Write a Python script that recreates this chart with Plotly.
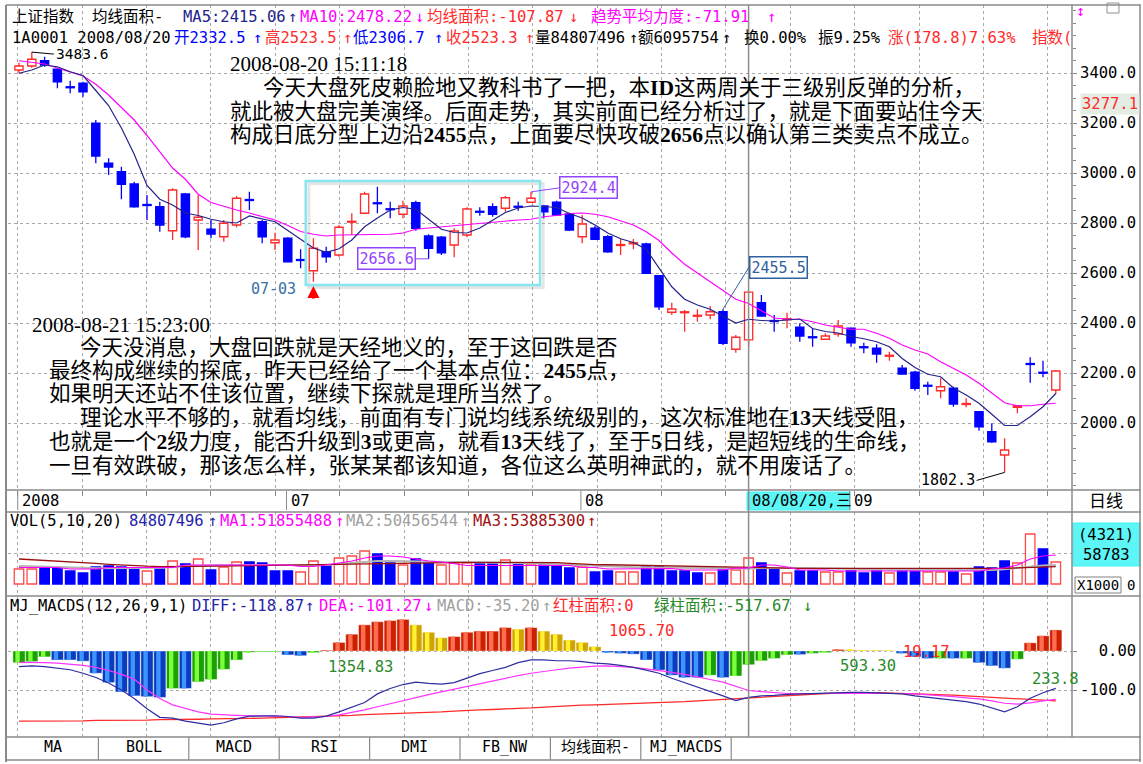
import plotly.graph_objects as go

W, H = 1143, 764

# ---------------- data ----------------
OPEN = [3412, 3428, 3449, 3415, 3345, 3359, 3199, 3039, 3005, 2956,
        2874, 2865, 2769, 2916, 2812, 2775, 2745, 2792, 2894, 2805,
        2721, 2739, 2654, 2609, 2685, 2672, 2803, 2839, 2881, 2857,
        2835, 2881, 2748, 2743, 2712, 2752, 2847, 2865, 2859, 2867,
        2883, 2868, 2883, 2836, 2745, 2779, 2745, 2710, 2717, 2716,
        2589, 2443, 2441, 2427, 2432, 2445, 2295, 2332.5, 2481, 2410,
        2413, 2383, 2345, 2335, 2356, 2379, 2305, 2299, 2267, 2219,
        2203, 2151, 2129, 2139, 2074, 2045, 1965, 1872, 2063, 2238,
        2203, 2132]
HIGH = [3441, 3483.6, 3465, 3417, 3369, 3365, 3212, 3059, 3025, 2965,
        2912, 2885, 2939, 2919, 2912, 2812, 2812, 2908, 2925, 2812,
        2761, 2743, 2695, 2739, 2705, 2792, 2839, 2925, 2945, 2885,
        2889, 2889, 2755, 2748, 2779, 2863, 2863, 2879, 2908, 2885,
        2924.4, 2870, 2889, 2841, 2832, 2788, 2752, 2737, 2736, 2721,
        2592, 2481, 2452, 2455, 2468, 2455.5, 2352, 2523.5, 2512, 2432,
        2441, 2399, 2379, 2359, 2412, 2381, 2321, 2315, 2285, 2232,
        2209, 2165, 2179, 2145, 2099, 2046, 1999, 1939, 2071, 2263,
        2249, 2212]
LOW = [3399, 3421, 3425, 3339, 3319, 3305, 3039, 2992, 2895, 2862,
       2812, 2765, 2732, 2739, 2692, 2739, 2725, 2783, 2852, 2719,
       2692, 2643, 2619, 2565, 2641, 2665, 2752, 2836, 2839, 2819,
       2819, 2769, 2656.6, 2672, 2663, 2743, 2829, 2825, 2845, 2849,
       2881, 2819, 2829, 2769, 2719, 2733, 2681, 2672, 2695, 2596,
       2452, 2432, 2365, 2405, 2415, 2312, 2281, 2306.7, 2426, 2365,
       2379, 2325, 2305, 2332, 2345, 2305, 2279, 2241, 2249, 2194,
       2129, 2112, 2099, 2065, 2063, 1969, 1921, 1802.3, 2039, 2161,
       2183, 2116]
CLOSE = [3428, 3455, 3432, 3365, 3341, 3325, 3068, 3024, 2955, 2865,
         2870, 2792, 2932, 2745, 2823, 2756, 2799, 2899, 2890, 2745,
         2732, 2645, 2650, 2699, 2665, 2783, 2807, 2916, 2877, 2853,
         2868, 2779, 2699, 2681, 2768, 2856, 2843, 2835, 2901, 2863,
         2899, 2845, 2832, 2772, 2796, 2735, 2685, 2714, 2721, 2599,
         2465, 2456, 2445, 2431, 2445, 2319, 2343, 2523.3, 2428, 2406,
         2417, 2348, 2341, 2348, 2388, 2321, 2301, 2276, 2271, 2196,
         2139, 2147, 2145, 2076, 2078, 1985, 1925, 1892, 2069, 2234,
         2199, 2208]
MA5 = [3399, 3412, 3432, 3425, 3405, 3390, 3330, 3270, 3180, 3075,
       2950, 2895, 2872, 2840, 2830, 2815, 2805, 2800, 2828, 2815,
       2805, 2770, 2735, 2700, 2683, 2697, 2732, 2785, 2820, 2852,
       2862, 2855, 2815, 2775, 2762, 2760, 2780, 2812, 2842, 2860,
       2868, 2866, 2862, 2838, 2820, 2792, 2760, 2737, 2722, 2695,
       2620, 2545, 2495, 2472, 2455, 2428, 2400, 2415.06, 2410, 2408,
       2413, 2416, 2378, 2366, 2360, 2346, 2337, 2325, 2305, 2258,
       2222, 2195, 2185, 2140, 2112, 2079, 2035, 1990, 1990, 2025,
       2065, 2118]
MA10 = [3449, 3441, 3436, 3420, 3405, 3388, 3355, 3312, 3262, 3212,
        3150, 3085, 3020, 2975, 2915, 2882, 2866, 2852, 2840, 2826,
        2812, 2790, 2766, 2755, 2748, 2752, 2752, 2752, 2752, 2755,
        2760, 2775, 2780, 2785, 2790, 2793, 2800, 2805, 2808, 2812,
        2815, 2825, 2830, 2838, 2840, 2835, 2825, 2810, 2792, 2765,
        2730, 2680, 2635, 2600, 2565, 2530, 2495, 2478.22, 2449, 2420,
        2415, 2415, 2405, 2392, 2383, 2375, 2375, 2359, 2339, 2312,
        2292, 2276, 2245, 2219, 2192, 2159, 2119, 2081, 2069, 2069,
        2075, 2079]

# volume in 10k shares
VOL = [4890, 4890, 5220, 5220, 4240, 3590, 5550, 5870, 5550, 4890,
       4240, 4890, 7500, 6520, 8160, 4570, 5550, 7180, 7180, 6850,
       4240, 4240, 3910, 7500, 5870, 8480, 9130, 10770, 9790, 6850,
       6200, 8160, 6850, 6200, 6850, 6850, 6850, 6850, 7830, 6850,
       6520, 6200, 5870, 5220, 5550, 3910, 4240, 3910, 3910, 5550,
       5550, 4240, 4240, 3590, 3590, 4570, 4570, 8481, 6850, 4890,
       3590, 4240, 4240, 3910, 3910, 4240, 3590, 4240, 3590, 4240,
       4240, 3910, 3910, 3910, 3260, 5550, 5220, 7500, 6850, 16310,
       11420, 7180]
VOL_COLOR = list("rrbbbbbbbbrbrbrbrrbbbbrrbrrrbbrbbrrrbbrbrbbbrbbrrbbbbbrbrrbbrbbrrbbbrbbrrbrbbbrrbr")
VOL_MA1 = [5380, 5380, 5380, 5380, 4890, 4890, 4890, 5380, 5380, 5380,
           5380, 5380, 5380, 6200, 6200, 6200, 6200, 6200, 6200, 6200,
           6200, 6200, 5710, 5710, 6200, 6850, 7500, 8480, 9130, 9130,
           8810, 8160, 7500, 7180, 6520, 6030, 6030, 6030, 6030, 6030,
           6030, 6030, 6030, 6030, 5380, 5380, 4890, 4890, 4890, 5060,
           5060, 5060, 4570, 4570, 4570, 4570, 5220, 5186, 6200, 6200,
           5550, 4570, 4570, 4570, 4240, 4240, 4240, 4240, 4240, 4240,
           4240, 4240, 4240, 4240, 4240, 4240, 4890, 5220, 6200, 8160,
           9130, 9460]
VOL_MA2 = [5870, 5800, 5720, 5650, 5500, 5300, 5120, 5120, 5120, 5120,
           5120, 5300, 5500, 5870, 5950, 6050, 6100, 6150, 6200, 6200,
           6200, 6200, 6200, 6200, 6200, 6500, 6900, 7200, 7500, 7500,
           7450, 7400, 7350, 7300, 7270, 7150, 7050, 6950, 6850, 6800,
           6750, 6600, 6400, 6200, 5970, 5800, 5700, 5600, 5500, 5450,
           5350, 5250, 5150, 5100, 5050, 5000, 5000, 5046, 5200, 5300,
           5320, 5200, 5100, 5000, 4950, 4900, 4860, 4800, 4750, 4700,
           4650, 4600, 4550, 4500, 4470, 4470, 4600, 4850, 5120, 5600,
           6000, 6200]
VOL_MA3 = [8160, 7950, 7700, 7500, 7270, 7000, 6700, 6430, 6150, 5870,
           5800, 5700, 5650, 5700, 5750, 5800, 5870, 5950, 6050, 6150,
           6200, 6250, 6300, 6350, 6400, 6450, 6520, 6600, 6680, 6750,
           6800, 6850, 6900, 6950, 7000, 7080, 7080, 7080, 7080, 7080,
           7080, 7080, 6950, 6700, 6430, 6350, 6280, 6200, 6100, 6000,
           5850, 5750, 5650, 5580, 5520, 5460, 5420, 5389, 5300, 5200,
           5120, 5120, 5120, 5120, 5120, 5120, 5120, 5080, 5040, 5000,
           4960, 4930, 4910, 4900, 4890, 4950, 5020, 5120, 5250, 5400,
           5550, 5650]

MACD_BAR = [-30, -27, -15, -23, -23, -26, -57, -81, -105, -115,
            -117, -119, -96, -96, -79, -73, -47, -23, -3, -2,
            -2, -10, -12, -4, 2, 22, 43, 67, 75, 78,
            81, 67, 48, 34, 37, 48, 51, 51, 60, 56,
            60, 51, 43, 28, 22, 11, -4, -6, -8, -23,
            -49, -62, -68, -68, -62, -68, -64, -35.2, -25, -19,
            -10, -9, -6, -4, 4, 3, 2, 2, 1, -6,
            -15, -19, -19, -19, -19, -30, -38, -44, -21, 21,
            39, 54]
MACD_COLOR = list("gggbbbbbbbbbgbgggggggbbgrrrrrrryyyrrrrryryyyyybbbbbbbbgbgggggbggryyyybbbgbgbbbgrrr")
DIFF = [-40, -38, -40, -44, -48, -57, -68, -82, -100, -122,
        -148, -170, -172, -180, -185, -190, -184, -174, -167, -166,
        -166, -168, -172, -172, -167, -156, -145, -132, -110, -96,
        -86, -80, -83, -85, -81, -70, -58, -50, -42, -30,
        -23, -23, -25, -25, -27, -31, -33, -37, -42, -49,
        -57, -70, -81, -91, -102, -115, -127, -118.87, -115, -114,
        -111, -110, -109, -107, -106, -106, -106, -107, -108, -110,
        -115, -119, -122, -126, -130, -136, -147, -156, -143, -121,
        -107, -96]
DEA = [-29, -29, -30, -31, -34, -37, -42, -50, -60, -72,
       -100, -122, -138, -148, -156, -162, -164, -165, -166, -166,
       -167, -168, -170, -169, -168, -164, -158, -151, -143, -135,
       -127, -120, -112, -105, -98, -90, -83, -77, -70, -63,
       -57, -52, -48, -44, -41, -39, -38, -40, -42, -46,
       -50, -55, -60, -66, -73, -80, -90, -101.27, -104, -107,
       -109, -109, -109, -108, -108, -108, -108, -108, -108, -109,
       -110, -112, -114, -117, -120, -123, -128, -134, -136, -133,
       -128, -124]
RED_LINE = [-180, -180, -180, -180, -179, -179, -178, -178, -178, -177,
            -177, -176, -176, -175, -175, -174, -174, -173, -173, -172,
            -171, -170, -170, -169, -168, -166, -165, -163, -162, -161,
            -160, -158, -157, -156, -154, -152, -151, -150, -148, -147,
            -146, -144, -143, -141, -139, -138, -137, -136, -135, -134,
            -133, -131, -130, -128, -126, -124, -123, -121, -119, -117,
            -115, -113, -111, -109, -108, -107, -107, -107, -108, -108,
            -109, -110, -111, -113, -115, -117, -119, -121, -123, -125,
            -127, -128]

PRICE_TICKS = [2000, 2200, 2400, 2600, 2800, 3000, 3200, 3400]
VOL_GRID = [10000]
MACD_TICKS = [0, -100]
MACD_TICKTEXT = ["\u00a0\u00a00.00", "-100.0"]
DATE_IDX = [0, 21, 44, 65]
DATE_TEXT = ["2008", "07", "08", "09"]
CURSOR_IDX = 57
CURSOR_LABEL = "08/08/20,三"
TAB_LABELS = ["MA", "BOLL", "MACD", "RSI", "DMI", "FB_NW", "均线面积-", "MJ_MACDS"]

# ---------------- layout constants ----------------
MONO = "DejaVu Sans Mono, Noto Sans CJK SC"
SERIF = "Liberation Serif, Noto Sans CJK SC"
RED = "#ff2b2b"
BLUE = "#0000ff"
NAVY = "#23238a"
MAG = "#ff00ff"
GRID = "#a8a8a8"
FRAME = "#8a8a8a"

X0_PX, STEP_PX = 19.0, 12.8
PL, PR = 8, 1072
MAIN_PX, VOL_PX, MACD_PX = (5, 490), (512, 596), (596, 737)


def idx_of(px):
    return (px - X0_PX) / STEP_PX


def pyf(p):
    return 1 - p / H


XR = [idx_of(PL), idx_of(PR)]
PRICE_RANGE = [3400 - (MAIN_PX[1] - 73) * 4, 3400 - (MAIN_PX[0] - 73) * 4]
VOL_K = 326.2
VOL_RANGE = [(584 - VOL_PX[1]) * VOL_K, (584 - VOL_PX[0]) * VOL_K]
MACD_RANGE = [(651 - MACD_PX[1]) / 0.39, (651 - MACD_PX[0]) / 0.39]

IDX = list(range(len(OPEN)))
fig = go.Figure()

# ---------- candles ----------
up = [c >= o for o, c in zip(OPEN, CLOSE)]
wick = {True: ([], []), False: ([], [])}
for i, (o, h, l, c) in enumerate(zip(OPEN, HIGH, LOW, CLOSE)):
    top, bot = max(o, c), min(o, c)
    wx, wy = wick[c >= o]
    wx += [i, i, None, i, i, None]
    wy += [top, h, None, bot, l, None]
for k, col in ((True, RED), (False, BLUE)):
    fig.add_trace(go.Scatter(x=wick[k][0], y=wick[k][1], mode="lines",
                             line=dict(color=col, width=1.3), xaxis="x", yaxis="y"))
fig.add_trace(go.Bar(
    x=IDX, y=[max(abs(c - o), 3) for o, c in zip(OPEN, CLOSE)],
    base=[min(o, c) for o, c in zip(OPEN, CLOSE)], width=0.64,
    marker=dict(color=["white" if u else BLUE for u in up],
                line=dict(color=[RED if u else BLUE for u in up], width=1.3)),
    xaxis="x", yaxis="y"))
fig.add_trace(go.Scatter(x=IDX, y=MA10, mode="lines", line=dict(color=MAG, width=1.2),
                         xaxis="x", yaxis="y"))
fig.add_trace(go.Scatter(x=IDX, y=MA5, mode="lines", line=dict(color=NAVY, width=1.2),
                         xaxis="x", yaxis="y"))

# ---------- volume ----------
vr = [c == "r" for c in VOL_COLOR]
fig.add_trace(go.Bar(
    x=IDX, y=VOL, base=0, width=0.74,
    marker=dict(color=["white" if u else BLUE for u in vr],
                line=dict(color=["#ff4a4a" if u else BLUE for u in vr], width=1.3)),
    xaxis="x2", yaxis="y2"))
fig.add_trace(go.Scatter(x=IDX, y=VOL_MA2, mode="lines", line=dict(color="#b4b4b4", width=2),
                         xaxis="x2", yaxis="y2"))
fig.add_trace(go.Scatter(x=IDX, y=VOL_MA3, mode="lines", line=dict(color="#9a1010", width=1.3),
                         xaxis="x2", yaxis="y2"))
fig.add_trace(go.Scatter(x=IDX, y=VOL_MA1, mode="lines", line=dict(color=MAG, width=1.2),
                         xaxis="x2", yaxis="y2"))

# ---------- MACD ----------
DARK = {"g": "#1aa000", "b": "#0a3cc0", "r": "#cc2000", "y": "#d0a400"}
LIGHT = {"g": "#7cff3c", "b": "#3f95ff", "r": "#ff6e52", "y": "#fff030"}
fig.add_trace(go.Bar(x=IDX, y=MACD_BAR, base=0, width=0.95, offset=-0.475,
                     marker=dict(color=[DARK[c] for c in MACD_COLOR],
                                 line=dict(color="white", width=0.4)),
                     xaxis="x3", yaxis="y3"))
fig.add_trace(go.Bar(x=IDX, y=MACD_BAR, base=0, width=0.34, offset=-0.28,
                     marker=dict(color=[LIGHT[c] for c in MACD_COLOR], line=dict(width=0)),
                     xaxis="x3", yaxis="y3"))
fig.add_trace(go.Scatter(x=IDX, y=RED_LINE, mode="lines", line=dict(color="#ff2a2a", width=1.3),
                         xaxis="x3", yaxis="y3"))
fig.add_trace(go.Scatter(x=IDX, y=DEA, mode="lines", line=dict(color="#ff33ff", width=1.2),
                         xaxis="x3", yaxis="y3"))
fig.add_trace(go.Scatter(x=IDX, y=DIFF, mode="lines", line=dict(color="#2d2da0", width=1.2),
                         xaxis="x3", yaxis="y3"))

# ---------- axes ----------
xcommon = dict(domain=[PL / W, PR / W], range=XR, showticklabels=False, zeroline=False,
               showgrid=True, gridcolor=GRID, griddash="dot", gridwidth=1,
               tickmode="linear", tick0=-0.1, dtick=5.03, fixedrange=True)
ytick_font = dict(family=MONO, size=15.5, color="black")
fig.update_layout(
    width=W, height=H, margin=dict(l=0, r=0, t=0, b=0),
    paper_bgcolor="white", plot_bgcolor="white", showlegend=False,
    barmode="overlay", hovermode=False, dragmode=False,
    xaxis=dict(**xcommon, anchor="y", ticks="outside", ticklen=5, tickcolor=FRAME),
    xaxis2=dict(**xcommon, anchor="y2", ticks=""),
    xaxis3=dict(**xcommon, anchor="y3", ticks=""),
    yaxis=dict(domain=[pyf(MAIN_PX[1]), pyf(MAIN_PX[0])], range=PRICE_RANGE, anchor="x",
               side="right", tickmode="array", tickvals=PRICE_TICKS, tickformat=".1f",
               ticks="outside", ticklen=4, tickcolor=FRAME, tickfont=ytick_font,
               minor=dict(tickmode="linear", tick0=0, dtick=50, ticks="outside",
                          ticklen=3, tickcolor=FRAME, showgrid=False),
               showgrid=True, gridcolor=GRID, griddash="dot", zeroline=False, fixedrange=True),
    yaxis2=dict(domain=[pyf(VOL_PX[1]), pyf(VOL_PX[0])], range=VOL_RANGE, anchor="x2",
                side="right", tickmode="array", tickvals=VOL_GRID, showticklabels=False,
                showgrid=True, gridcolor=GRID, griddash="dot", zeroline=False, fixedrange=True),
    yaxis3=dict(domain=[pyf(MACD_PX[1]), pyf(MACD_PX[0])], range=MACD_RANGE, anchor="x3",
                side="right", tickmode="array", tickvals=MACD_TICKS, ticktext=MACD_TICKTEXT,
                ticks="outside", ticklen=4, tickcolor=FRAME, tickfont=ytick_font,
                showgrid=True, gridcolor=GRID, griddash="dot", zeroline=False, fixedrange=True),
)

# ---------- shapes ----------
shapes = []


def hline(yp, x0=6, x1=1141, color=FRAME, w=1.5):
    shapes.append(dict(type="line", xref="paper", yref="paper", x0=x0 / W, x1=x1 / W,
                       y0=pyf(yp), y1=pyf(yp), line=dict(color=color, width=w)))


def vline(xp, y0, y1, color=FRAME, w=1.5):
    shapes.append(dict(type="line", xref="paper", yref="paper", x0=xp / W, x1=xp / W,
                       y0=pyf(y0), y1=pyf(y1), line=dict(color=color, width=w)))


def rect(x0, y0, x1, y1, line="#808080", fill="rgba(0,0,0,0)", w=1):
    shapes.append(dict(type="rect", xref="paper", yref="paper", x0=x0 / W, x1=x1 / W,
                       y0=pyf(y1), y1=pyf(y0), line=dict(color=line, width=w), fillcolor=fill,
                       layer="below"))


for yp in (5, 490, 512, 596, 737, 760):
    hline(yp)
vline(6, 5, 762, w=2)
vline(1072, 5, 737)
vline(1140, 5, 762)
for k in range(len(TAB_LABELS)):
    vline(PL + 90.4 * (k + 1), 737, 760, w=1.2)

# date row separators at month starts
for di in DATE_IDX:
    shapes.append(dict(type="line", xref="x", yref="paper", x0=di - 0.1, x1=di - 0.1,
                       y0=pyf(510), y1=pyf(491), line=dict(color=FRAME, width=1)))

# cursor line
shapes.append(dict(type="line", xref="x", yref="paper", x0=CURSOR_IDX, x1=CURSOR_IDX,
                   y0=pyf(737), y1=pyf(5), line=dict(color="#8c8c8c", width=1.5), layer="above"))

# cyan box drawn on the chart
BOX_X, BOX_Y = (22.4, 40.7), (2552, 2968)
shapes.append(dict(type="rect", xref="x", yref="y", x0=BOX_X[0] + 0.25, x1=BOX_X[1] + 0.25,
                   y0=BOX_Y[0] - 10, y1=BOX_Y[1] - 10, line=dict(color="rgba(0,0,0,0.10)", width=3),
                   layer="below"))
shapes.append(dict(type="rect", xref="x", yref="y", x0=BOX_X[0], x1=BOX_X[1],
                   y0=BOX_Y[0], y1=BOX_Y[1], line=dict(color="#88e6ee", width=2.5)))

# right column boxes
rect(1073, 523, 1140, 566, line="#40f0f0", fill="#5cf6f6")
rect(1075, 577, 1121, 593, line="#808080", fill="white")
rect(1107, 3, 1119, 13, line="#909090", fill="white")
rect(747, 492, 850, 510, line="#50f0f0", fill="#5cf6f6")
fig.update_layout(shapes=shapes)

# ---------- annotations ----------
ann = []


def txt(xp, yp, s, color="black", size=15.5, family=MONO, xanchor="left"):
    ann.append(dict(x=xp / W, y=pyf(yp), xref="paper", yref="paper", text=s, showarrow=False,
                    xanchor=xanchor, yanchor="middle", font=dict(family=family, size=size, color=color)))


# header lines
for xp, s, col in [(10, "上证指数", "black"), (90, "均线面积-", "black"),
                   (181, "MA5:2415.06", NAVY), (286, "↑", NAVY),
                   (298, "MA10:2478.22", MAG), (413, "↓", MAG), (425, "均线面积:-107.87", RED),
                   (567, "↓", RED), (589, "趋势平均力度:-71.91", MAG), (765, "↑", MAG)]:
    txt(xp, 17, s, col)
for xp, s, col in [(10, "1A0001 2008/08/20", "black"), (172, "开2332.5", BLUE), (251, "↑", BLUE),
                   (263, "高2523.5", RED), (341, "↑", RED), (351, "低2306.7", BLUE), (432, "↑", BLUE),
                   (444, "收2523.3", RED), (523, "↑", RED), (533, "量84807496", "black"),
                   (627, "↑", "black"), (636, "额6095754", "black"), (720, "↑", "black"),
                   (742, "换0.00%", "black"), (816, "振9.25%", "black"),
                   (886, "涨(178.8)7.63%", RED), (1030, "指数(", RED)]:
    txt(xp, 38, s, col)
txt(1074, 11, "↕", MAG, size=15)

# volume header
for xp, s, col in [(8, "VOL(5,10,20)", "black"), (127, "84807496", "#2424a8"), (206, "↑", "#2424a8"),
                   (218, "MA1:51855488", MAG), (333, "↑", MAG), (344, "MA2:50456544", "#a0a0a0"),
                   (459, "↑", "#a0a0a0"), (471, "MA3:53885300", "#a01010"), (585, "↑", "#a01010")]:
    txt(xp, 521, s, col)
# MACD header
GREEN_T = "#2a8a2a"
for xp, s, col in [(8, "MJ_MACDS(12,26,9,1)", "black"), (190, "DIFF:-118.87", "#2424a8"),
                   (303, "↑", "#2424a8"), (317, "DEA:-101.27", MAG), (422, "↓", MAG),
                   (435, "MACD:-35.20", "#a0a0a0"), (540, "↑", "#a0a0a0"), (551, "红柱面积:0", RED),
                   (652, "绿柱面积:-517.67", GREEN_T), (801, "↓", GREEN_T)]:
    txt(xp, 606, s, col)

# MACD area labels
for xp, yp, s, col in [(326, 667, "1354.83", GREEN_T), (607, 631, "1065.70", RED),
                       (838, 666, "593.30", GREEN_T), (901, 652, "19.17", RED),
                       (1030, 679, "233.8", GREEN_T)]:
    txt(xp, yp, s, col, size=15.5)

# date row
for di, s in zip(DATE_IDX, DATE_TEXT):
    ann.append(dict(x=di, y=pyf(501), xref="x", yref="paper", text=s, showarrow=False,
                    xanchor="left", yanchor="middle", xshift=1,
                    font=dict(family=MONO, size=15.5, color="black")))
ann.append(dict(x=CURSOR_IDX, y=pyf(501), xref="x", yref="paper", text=CURSOR_LABEL,
                showarrow=False, xanchor="left", yanchor="middle", xshift=1,
                font=dict(family=MONO, size=15.5, color="black")))
txt(1106, 501, "日线", "black", size=17, xanchor="center")

# right column labels
txt(1106, 535, "(4321)", "black", xanchor="center")
txt(1106, 555, "58783", "black", xanchor="center")
txt(1098, 585, "X1000", "black", size=14, xanchor="center")
txt(1131, 585, "0", "black", size=14, xanchor="center")
ann.append(dict(x=1080 / W, y=3277.1, xref="paper", yref="y", text="3277.1", showarrow=False,
                xanchor="left", yanchor="middle", bgcolor="#e4ede4",
                font=dict(family=MONO, size=15.5, color=RED)))

# tabs
for k, s in enumerate(TAB_LABELS):
    txt(PL + 90.4 * k + 45.2, 747, s, "black", size=15, xanchor="center")


# price labels with leaders
def lead(i, price, s, ax, ay, xanchor, color="black", border=None, size=15):
    d = dict(x=i, y=price, xref="x", yref="y", text=s, showarrow=True, arrowhead=0,
             arrowwidth=1, arrowcolor=color if border is None else border, ax=ax, ay=ay,
             xanchor=xanchor, yanchor="middle", font=dict(family=MONO, size=size, color=color))
    if border:
        d.update(bordercolor=border, borderwidth=1.5, bgcolor="white", borderpad=1)
    ann.append(d)


lead(1, HIGH[1], "3483.6", 22, 2, "left", size=14.5)
lead(77, LOW[77], "1802.3", -28, 8, "right")
lead(40, HIGH[40], "2924.4", 28, -4, "left", color="#9444ff", border="#9444ff")
lead(32, LOW[32], "2656.6", -13, 0, "right", color="#9444ff", border="#9444ff")
lead(55, HIGH[55], "2455.5", 26, -42, "left", color="#2f62a0", border="#2f62a0")

ann.append(dict(x=23, y=2536, xref="x", yref="y", text="07-03", showarrow=False,
                xanchor="right", yanchor="middle", xshift=-15,
                font=dict(family=MONO, size=15, color="#3b6ea5")))
ann.append(dict(x=23, y=2548, xref="x", yref="y", text="", showarrow=True, arrowhead=2,
                arrowsize=0.8, arrowwidth=3, arrowcolor="#ff0000", ax=0, ay=14))

# commentary text
P = 21.5
txt(228, 64, "2008-08-20 15:11:18", "black", size=21, family=SERIF)
txt(261, 88, "今天大盘死皮赖脸地又教科书了一把，本<b>ID</b>这两周关于三级别反弹的分析，", "black", P, SERIF)
txt(228, 112, "就此被大盘完美演绎。后面走势，其实前面已经分析过了，就是下面要站住今天", "black", P, SERIF)
txt(228, 135, "构成日底分型上边沿<b>2455</b>点，上面要尽快攻破<b>2656</b>点以确认第三类卖点不成立。", "black", P, SERIF)
txt(30, 325, "2008-08-21 15:23:00", "black", size=21, family=SERIF)
txt(78, 348, "今天没消息，大盘回跌就是天经地义的，至于这回跌是否", "black", P, SERIF)
txt(47, 371, "最终构成继续的探底，昨天已经给了一个基本点位：<b>2455</b>点，", "black", P, SERIF)
txt(47, 394, "如果明天还站不住该位置，继续下探就是理所当然了。", "black", P, SERIF)
txt(78, 418, "理论水平不够的，就看均线，前面有专门说均线系统级别的，这次标准地在<b>13</b>天线受阻，", "black", P, SERIF)
txt(47, 442, "也就是一个<b>2</b>级力度，能否升级到<b>3</b>或更高，就看<b>13</b>天线了，至于<b>5</b>日线，是超短线的生命线，", "black", P, SERIF)
txt(47, 466, "一旦有效跌破，那该怎么样，张某某都该知道，各位这么英明神武的，就不用废话了。", "black", P, SERIF)

fig.update_layout(annotations=ann)
fig.write_html("out.html", config={"displayModeBar": False},
               post_script="document.body.style.margin='0px';")
